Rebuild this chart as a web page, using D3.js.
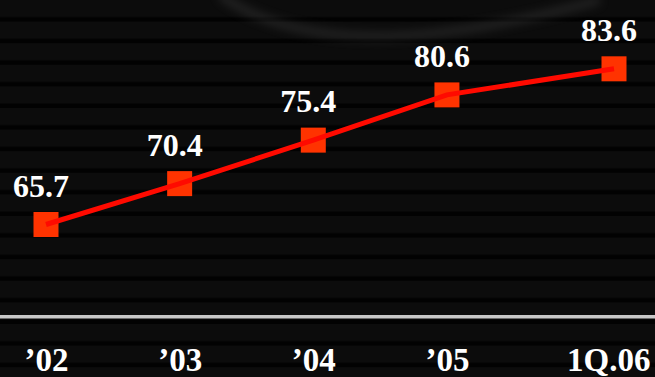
<!DOCTYPE html>
<html>
<head>
<meta charset="utf-8">
<script src="https://cdn.jsdelivr.net/npm/d3@7"></script>
<style>
  html, body { margin: 0; padding: 0; background: #000; }
  svg { display: block; }
</style>
</head>
<body>
<div id="chart"></div>
<script>
// Data
const categories = ["\u201902", "\u201903", "\u201904", "\u201905", "1Q.06"];
const periods = [2002, 2003, 2004, 2005, 2006.25];
const values = [65.7, 70.4, 75.4, 80.6, 83.6];
const valueLabels = ["65.7", "70.4", "75.4", "80.6", "83.6"];

const W = 655, H = 377;
const svg = d3.select("#chart").append("svg")
  .attr("width", W).attr("height", H);

// background
const defs = svg.append("defs");
const pat = defs.append("pattern")
  .attr("id", "stripes").attr("patternUnits", "userSpaceOnUse")
  .attr("width", W).attr("height", 21.6);
pat.append("rect").attr("width", W).attr("height", 21.6).attr("fill", "#0c0c0c");
pat.append("rect").attr("y", 17).attr("width", W).attr("height", 4.6).attr("fill", "#020202");
const blur = defs.append("filter").attr("id", "blur").attr("x", "-20%").attr("y", "-50%").attr("width", "140%").attr("height", "200%");
blur.append("feGaussianBlur").attr("stdDeviation", 5);

svg.append("rect").attr("width", W).attr("height", H).attr("fill", "url(#stripes)");
// faint photographic arc in the background
svg.append("path")
  .attr("d", "M 220 -5 Q 330 75 600 0")
  .attr("fill", "none").attr("stroke", "#555").attr("stroke-width", 9)
  .attr("opacity", 0.3).attr("filter", "url(#blur)");

// scales
const x = d3.scaleLinear().domain([2002, 2006.25]).range([46, 614]);
const y = d3.scaleLinear().domain([65.7, 83.6]).range([224.5, 68.8]);

// axis baseline
const axisY = 317;
const xAxis = d3.axisBottom(x).tickValues(periods).tickSize(0).tickFormat((d, i) => categories[i]);
const gx = svg.append("g").attr("transform", `translate(0,${axisY})`).call(xAxis);
gx.select(".domain").remove();
svg.append("rect").attr("x", 0).attr("y", axisY - 2).attr("width", W).attr("height", 3.5).attr("fill", "#c8c8c8");
gx.selectAll(".tick text")
  .attr("fill", "#fff")
  .attr("font-family", "'Liberation Serif', 'Times New Roman', serif")
  .attr("font-weight", "bold")
  .attr("font-size", 33)
  .attr("dy", 0)
  .attr("y", 54)
  .attr("text-anchor", (d, i) => i === periods.length - 1 ? "end" : "middle")
  .attr("dx", (d, i) => i === periods.length - 1 ? 36 : 0);

const pts = periods.map((p, i) => ({ p, v: values[i], label: valueLabels[i] }));

// markers
const ms = 25;
svg.append("g").selectAll("rect").data(pts).join("rect")
  .attr("x", d => x(d.p) - ms / 2)
  .attr("y", d => y(d.v) - ms / 2)
  .attr("width", ms).attr("height", ms)
  .attr("fill", "#ff3300");

// line
const line = d3.line().x(d => x(d.p)).y(d => y(d.v));
svg.append("path").datum(pts)
  .attr("d", line)
  .attr("fill", "none")
  .attr("stroke", "#ff0a00")
  .attr("stroke-width", 5);

// value labels
svg.append("g").selectAll("text").data(pts).join("text")
  .attr("x", d => x(d.p) - 5)
  .attr("y", d => y(d.v) - 28)
  .attr("text-anchor", "middle")
  .attr("fill", "#fff")
  .attr("font-family", "'Liberation Serif', 'Times New Roman', serif")
  .attr("font-weight", "bold")
  .attr("font-size", 32)
  .text(d => d.label);
</script>
</body>
</html>
